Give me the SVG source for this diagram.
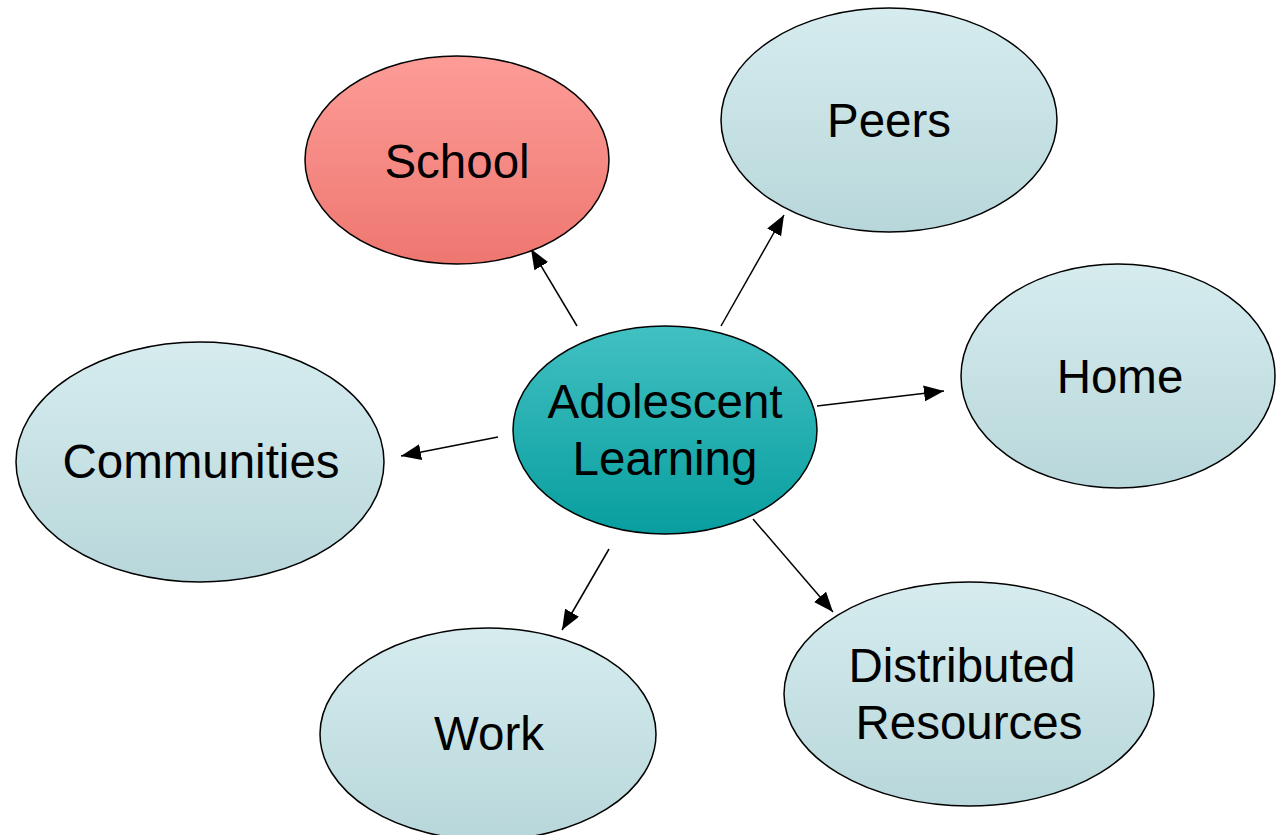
<svg xmlns="http://www.w3.org/2000/svg" width="1276" height="835" viewBox="0 0 1276 835">
<defs>
<linearGradient id="gBlue" x1="0" y1="0" x2="0" y2="1"><stop offset="0" stop-color="#d6ecef"/><stop offset="1" stop-color="#b8d7da"/></linearGradient>
<linearGradient id="gRed" x1="0" y1="0" x2="0" y2="1"><stop offset="0" stop-color="#fd9c97"/><stop offset="1" stop-color="#ee7770"/></linearGradient>
<linearGradient id="gTeal" x1="0" y1="0" x2="0" y2="1"><stop offset="0" stop-color="#42c0c2"/><stop offset="1" stop-color="#089e9f"/></linearGradient>
<marker id="arr" viewBox="0 0 10 10" refX="10" refY="5" markerWidth="9" markerHeight="9" markerUnits="userSpaceOnUse" orient="auto"><path d="M0,0 L10,5 L0,10 z" fill="#000"/></marker>
<marker id="arrow" viewBox="0 0 20 16" refX="20" refY="8" markerWidth="20" markerHeight="16" markerUnits="userSpaceOnUse" orient="auto"><path d="M0,0 L20,8 L0,16 z" fill="#000"/></marker>
</defs>
<style>
ellipse{stroke:#000;stroke-width:1.5}
text{font-family:"Liberation Sans",Arial,sans-serif;font-size:47.5px;fill:#000;text-anchor:middle}
.c line{stroke:#000;stroke-width:1.5;marker-end:url(#arrow)}
</style>
<rect width="1276" height="835" fill="#fff"/>
<g class="c" id="connectors">
<line x1="577" y1="326" x2="531" y2="249"/>
<line x1="721" y1="326" x2="784" y2="215"/>
<line x1="817" y1="406" x2="944" y2="391"/>
<line x1="498" y1="437" x2="401" y2="456"/>
<line x1="609" y1="549" x2="562" y2="630"/>
<line x1="753" y1="519" x2="833" y2="612"/>
</g>
<g id="school"><ellipse cx="457" cy="160" rx="152" ry="104" fill="url(#gRed)"/><text x="457" y="178">School</text></g>
<g id="peers"><ellipse cx="889" cy="120" rx="168" ry="112" fill="url(#gBlue)"/><text x="889" y="137">Peers</text></g>
<g id="home"><ellipse cx="1118" cy="376" rx="157" ry="112" fill="url(#gBlue)"/><text x="1120" y="393">Home</text></g>
<g id="communities"><ellipse cx="200" cy="462" rx="184" ry="120" fill="url(#gBlue)"/><text x="201" y="478">Communities</text></g>
<g id="adolescent"><ellipse cx="665" cy="430" rx="152" ry="104" fill="url(#gTeal)"/><text x="665" y="418">Adolescent</text><text x="665" y="475">Learning</text></g>
<g id="work"><ellipse cx="488" cy="734" rx="168" ry="106" fill="url(#gBlue)"/><text x="489" y="750">Work</text></g>
<g id="distributed"><ellipse cx="969" cy="694" rx="185" ry="112" fill="url(#gBlue)"/><text x="962" y="682">Distributed</text><text x="969" y="739">Resources</text></g>
</svg>
